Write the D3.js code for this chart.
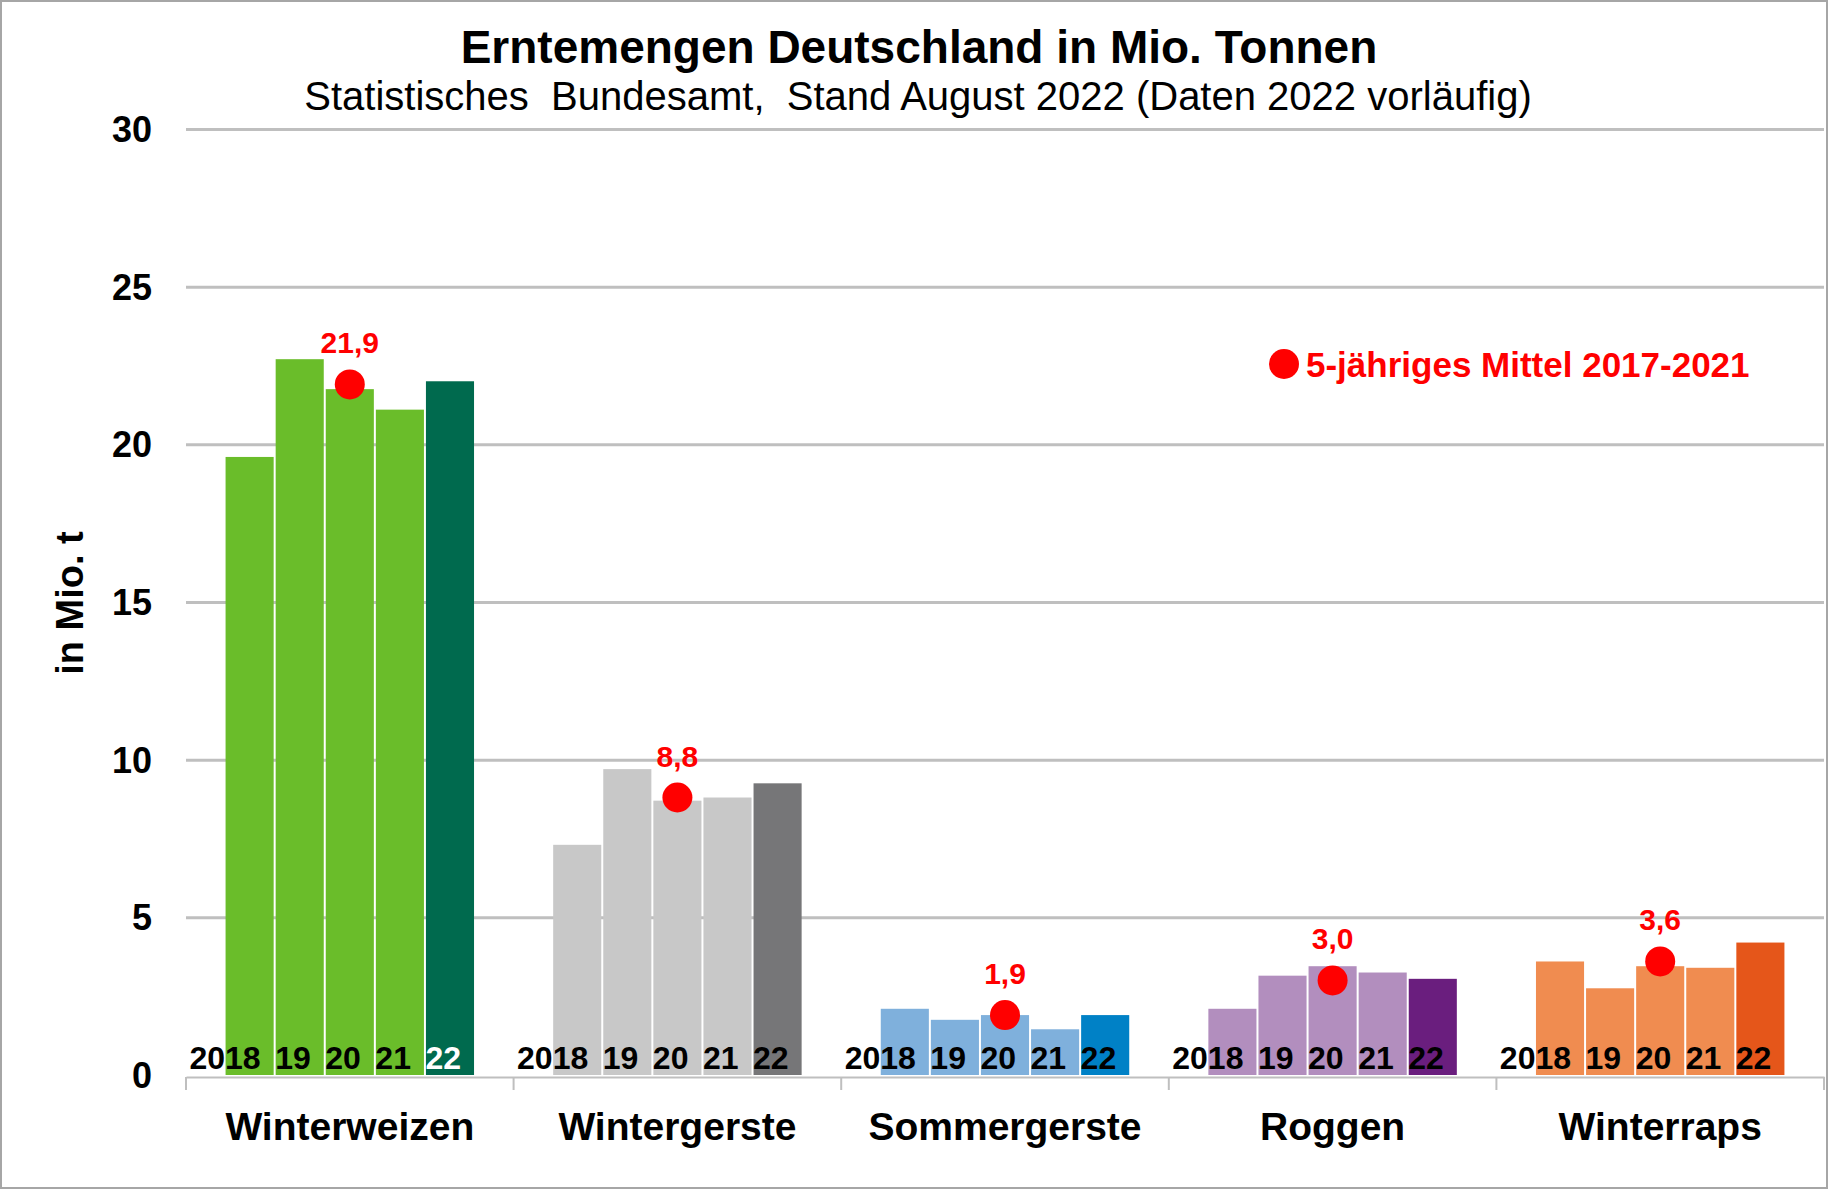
<!DOCTYPE html>
<html>
<head>
<meta charset="utf-8">
<script src="https://cdn.jsdelivr.net/npm/d3@7"></script>
<style>
  body { margin: 0; background: #fff; }
  svg { display: block; font-family: "Liberation Sans", Arial, sans-serif; }
</style>
</head>
<body>
<figure id="chart" style="margin:0"></figure>
<script>
// data
const crops = ["Winterweizen", "Wintergerste", "Sommergerste", "Roggen", "Winterraps"];
const years = ["2018", "19", "20", "21", "22"];
const harvest = [
  [19.6, 22.7, 21.75, 21.1, 22.0],
  [7.3, 9.7, 8.7, 8.8, 9.25],
  [2.1, 1.75, 1.9, 1.45, 1.9],
  [2.1, 3.15, 3.45, 3.25, 3.05],
  [3.6, 2.75, 3.45, 3.4, 4.2]
];
const mean5 = [21.9, 8.8, 1.9, 3.0, 3.6];
const yTicks = [0, 5, 10, 15, 20, 25, 30];
const lightColors = ["#6abd2a", "#c8c8c8", "#7fb0dc", "#b28ebe", "#f08c50"];
const darkColors = ["#006a4e", "#767678", "#0081c6", "#6a1e7e", "#e5561a"];

const W = 1828, H = 1189;
const svg = d3.select("#chart").append("svg")
  .attr("width", W).attr("height", H);

svg.append("rect")
  .attr("x", 1).attr("y", 1).attr("width", W - 2).attr("height", H - 2)
  .attr("fill", "#fff").attr("stroke", "#a6a6a6").attr("stroke-width", 2);

// scales
const x0 = d3.scaleBand().domain(crops).range([186, 1824]);
const x1 = d3.scaleBand().domain(years).range([0, x0.bandwidth()]).paddingOuter(0.77);
const y = d3.scaleLinear().domain([0, 30]).range([1075, 129]);

// title
svg.append("text")
  .attr("x", 919).attr("y", 63)
  .attr("text-anchor", "middle")
  .style("font-size", "46px").style("font-weight", "bold")
  .text("Erntemengen Deutschland in Mio. Tonnen");
svg.append("text")
  .attr("x", 918).attr("y", 110)
  .attr("text-anchor", "middle")
  .style("font-size", "40px")
  .attr("xml:space", "preserve")
  .text("Statistisches  Bundesamt,  Stand August 2022 (Daten 2022 vorläufig)");

// gridlines + y labels
const yAxis = d3.axisLeft(y).tickValues(yTicks).tickSize(-(1824 - 186)).tickPadding(34);
const gy = svg.append("g")
  .attr("transform", "translate(186,0)")
  .call(yAxis);
gy.select(".domain").remove();
gy.selectAll(".tick line")
  .attr("stroke", "#bfbfbf").attr("stroke-width", 3)
  .filter(d => d === 0).remove();
gy.selectAll(".tick text")
  .style("font-size", "36px").style("font-weight", "bold")
  .attr("fill", "#000").attr("dy", "0.35em");

// y axis title
svg.append("text")
  .attr("transform", "translate(83,603) rotate(-90)")
  .attr("text-anchor", "middle")
  .style("font-size", "38px").style("font-weight", "bold")
  .text("in Mio. t");

// bars
const groups = svg.append("g").selectAll("g")
  .data(crops)
  .join("g")
  .attr("transform", d => "translate(" + x0(d) + ",0)");

groups.selectAll("rect")
  .data((d, i) => harvest[i].map((v, j) => ({ crop: i, year: years[j], v: v, j: j })))
  .join("rect")
  .attr("x", d => x1(d.year) + 1)
  .attr("y", d => y(d.v))
  .attr("width", x1.bandwidth() - 2)
  .attr("height", d => y(0) - y(d.v))
  .attr("fill", d => d.j === years.length - 1 ? darkColors[d.crop] : lightColors[d.crop]);

// year labels at the base of the bars
groups.selectAll("text.yr")
  .data((d, i) => years.map((yr, j) => ({ crop: i, year: yr, j: j })))
  .join("text")
  .attr("class", "yr")
  .attr("x", d => x1(d.year) + x1.bandwidth() - 14)
  .attr("y", 1069)
  .attr("text-anchor", "end")
  .style("font-size", "32px").style("font-weight", "bold")
  .attr("fill", d => (d.crop === 0 && d.j === 4) ? "#fff" : "#000")
  .text(d => d.year);

// x axis line + category ticks
const xAxis = d3.axisBottom(x0).tickSize(0).tickPadding(35);
const gx = svg.append("g")
  .attr("transform", "translate(0,1077)")
  .call(xAxis);
gx.select(".domain").attr("stroke", "#bfbfbf").attr("stroke-width", 2);
gx.selectAll(".tick text")
  .style("font-size", "39px").style("font-weight", "bold")
  .attr("fill", "#000");
svg.append("g").selectAll("line")
  .data(crops.map(c => x0(c)).concat([x0.range()[1]]))
  .join("line")
  .attr("x1", d => d).attr("x2", d => d)
  .attr("y1", 1077).attr("y2", 1090)
  .attr("stroke", "#bfbfbf").attr("stroke-width", 2);

// 5-year mean dots and labels
const meanX = (c) => x0(c) + x1("20") + x1.bandwidth() / 2;
svg.append("g").selectAll("circle")
  .data(crops)
  .join("circle")
  .attr("cx", d => meanX(d))
  .attr("cy", (d, i) => y(mean5[i]))
  .attr("r", 15)
  .attr("fill", "#ff0000");
svg.append("g").selectAll("text")
  .data(crops)
  .join("text")
  .attr("x", d => meanX(d))
  .attr("y", (d, i) => y(mean5[i]) - 31)
  .attr("text-anchor", "middle")
  .style("font-size", "30px").style("font-weight", "bold")
  .attr("fill", "#ff0000")
  .text((d, i) => d3.format(".1f")(mean5[i]).replace(".", ","));

// legend
svg.append("circle")
  .attr("cx", 1284).attr("cy", 364).attr("r", 15)
  .attr("fill", "#ff0000");
svg.append("text")
  .attr("x", 1306).attr("y", 377)
  .style("font-size", "35px").style("font-weight", "bold")
  .attr("fill", "#ff0000")
  .text("5-jähriges Mittel 2017-2021");
</script>
</body>
</html>
